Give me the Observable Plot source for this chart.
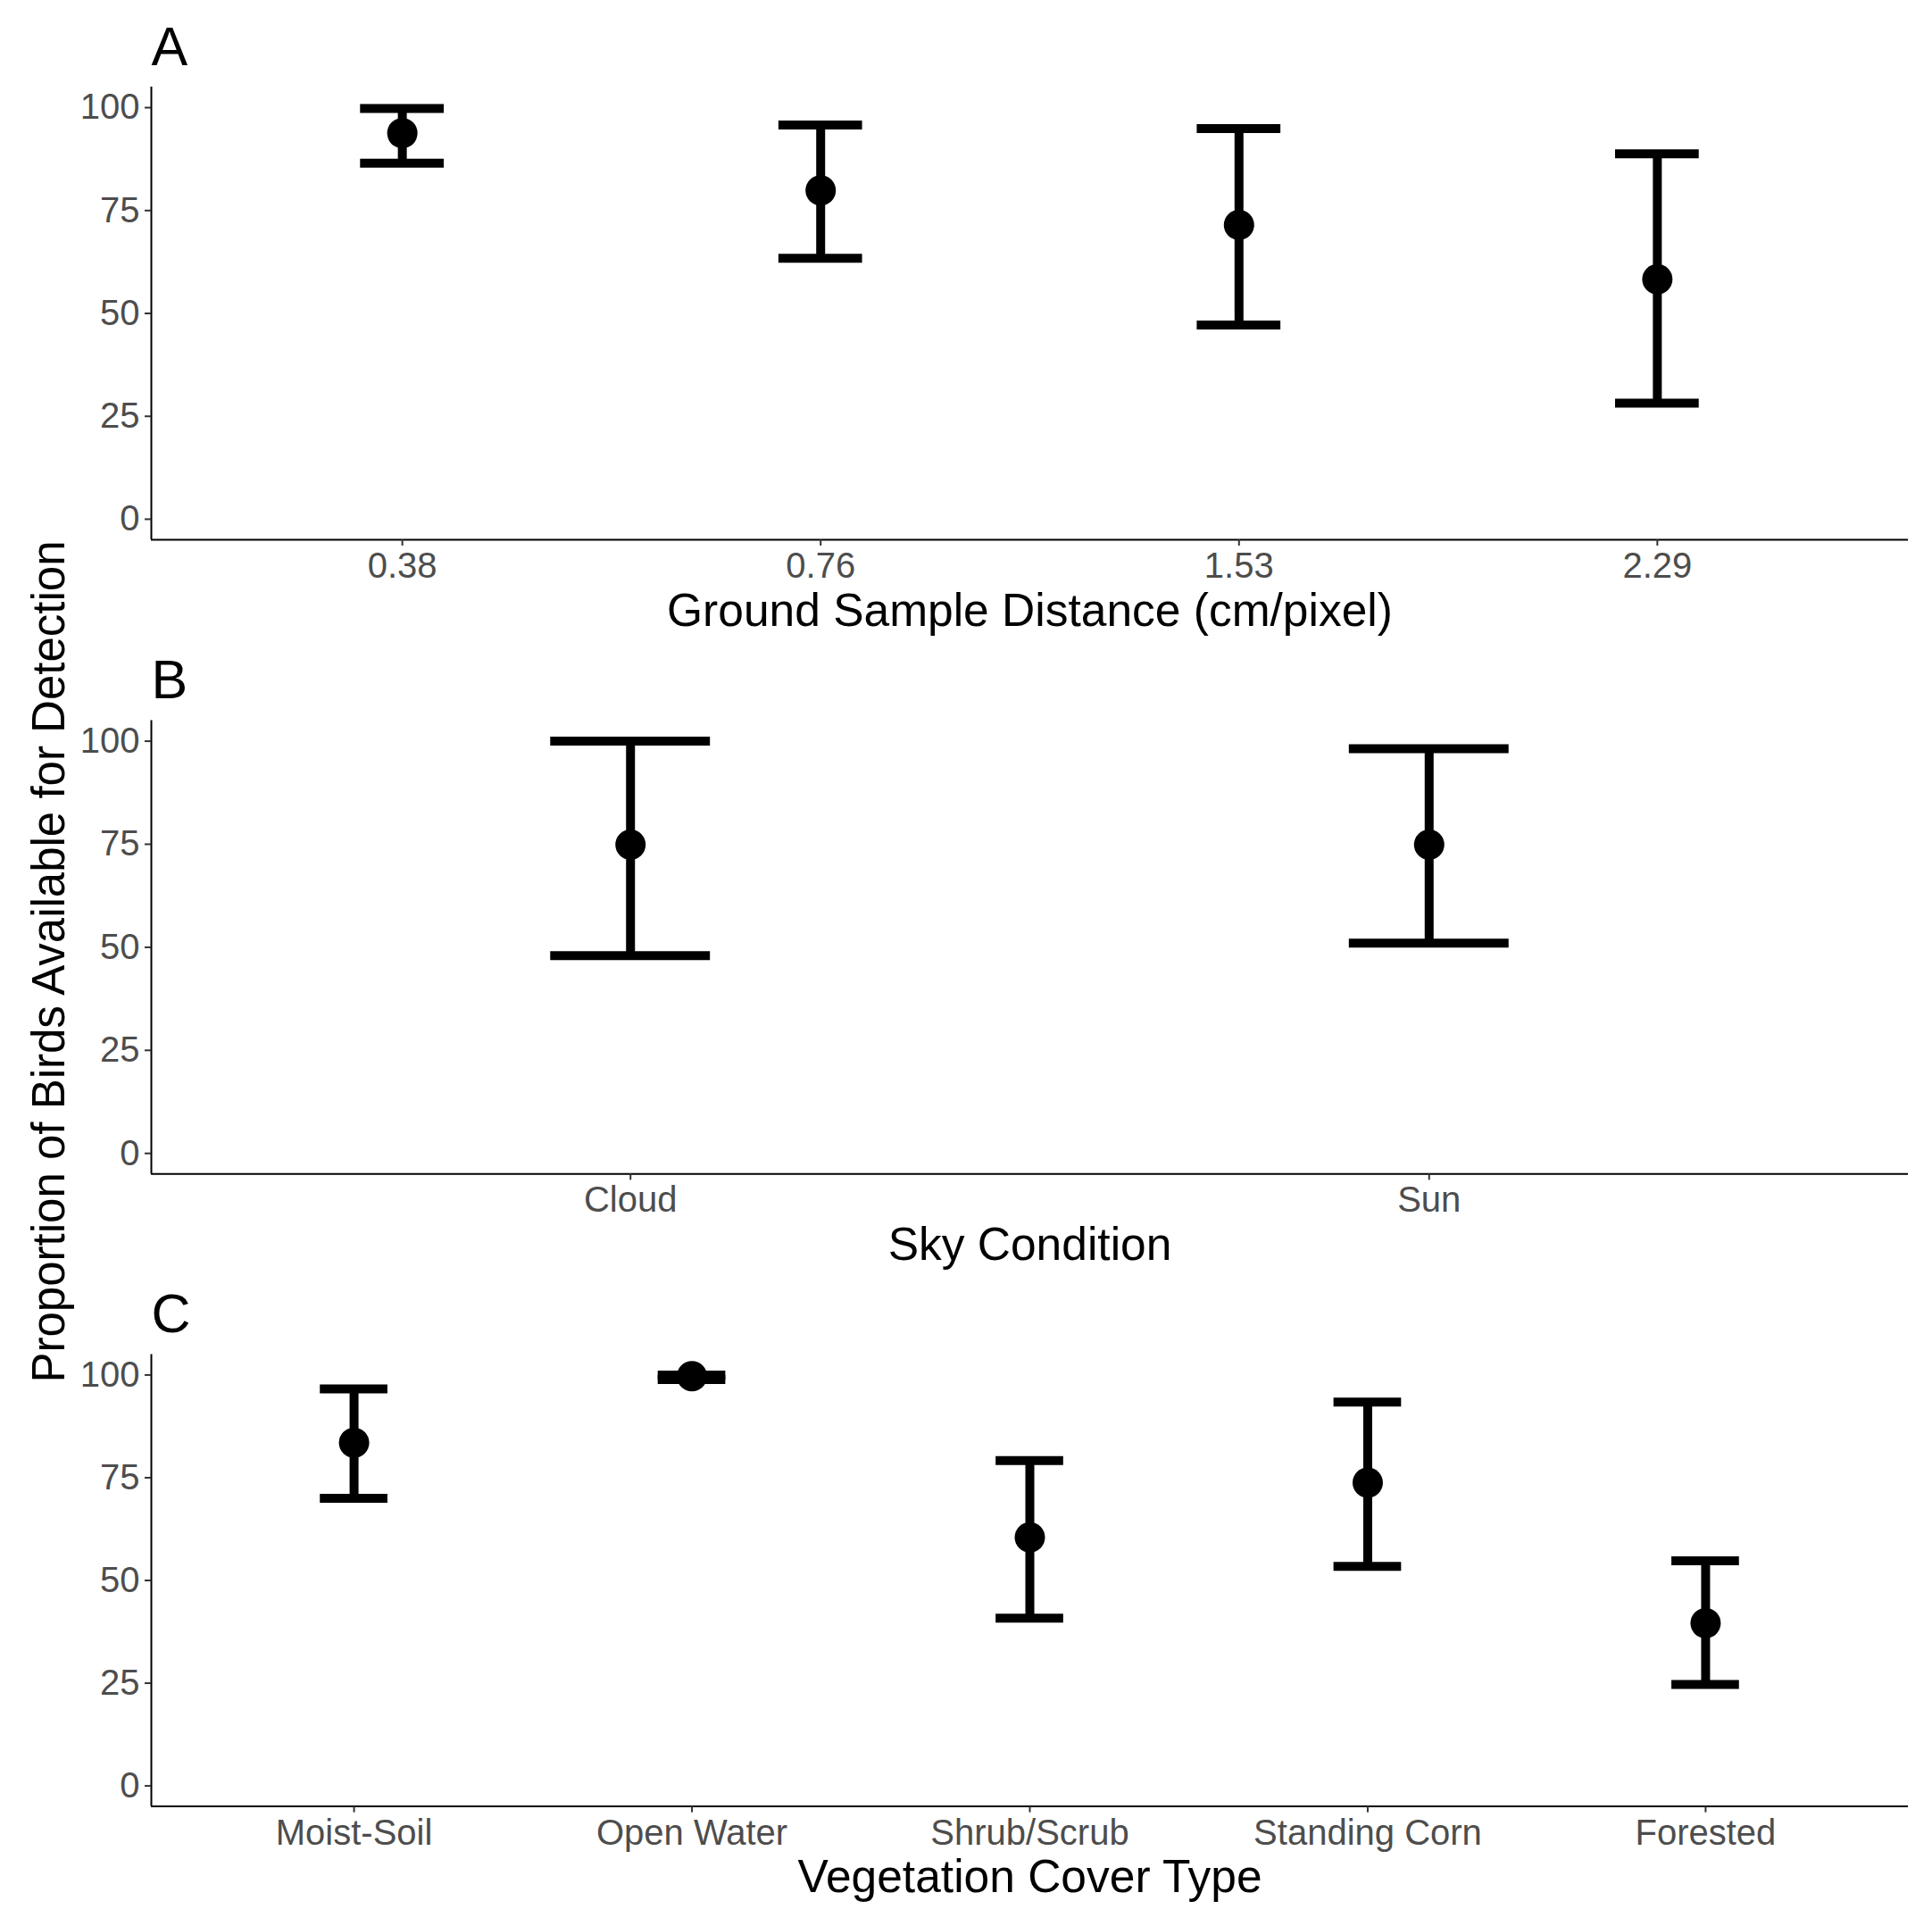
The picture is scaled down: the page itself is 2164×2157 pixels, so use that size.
<!DOCTYPE html>
<html>
<head>
<meta charset="utf-8">
<script src="https://cdn.jsdelivr.net/npm/d3@7"></script>
<script src="https://cdn.jsdelivr.net/npm/@observablehq/plot@0.6"></script>
<style>
html, body { margin: 0; padding: 0; background: #fff; }
#fig { position: relative; width: 2164px; height: 2157px; background: #fff; font-family: "Liberation Sans", Arial, sans-serif; overflow: hidden; }
#fig svg { position: absolute; left: 0; }
#ytitle { position: absolute; left: 54px; top: 1077px; transform: translate(-50%, -50%) rotate(-90deg); font-size: 51px; line-height: 51px; white-space: nowrap; color: #000; }
</style>
</head>
<body>
<div id="fig"><div id="ytitle">Proportion of Birds Available for Detection</div></div>
<script>
// Panel A: Ground Sample Distance
const gsdCats = ["0.38", "0.76", "1.53", "2.29"];
const gsdEst  = [93.8, 79.9, 71.5, 58.3];
const gsdLo   = [86.5, 63.4, 47.2, 28.2];
const gsdHi   = [99.8, 95.8, 94.9, 88.8];

// Panel B: Sky Condition
const skyCats = ["Cloud", "Sun"];
const skyEst  = [74.9, 74.9];
const skyLo   = [48.0, 51.0];
const skyHi   = [100.0, 98.2];

// Panel C: Vegetation Cover Type
const vegCats = ["Moist-Soil", "Open Water", "Shrub/Scrub", "Standing Corn", "Forested"];
const vegEst  = [83.5, 99.7, 60.5, 73.8, 39.6];
const vegLo   = [70.0, 98.9, 40.8, 53.4, 24.7];
const vegHi   = [96.6, 100.0, 79.2, 93.4, 54.8];

const yTicks = [0, 25, 50, 75, 100];
const yDomain = [-5, 105];

const fig = document.getElementById("fig");
const FONT = '"Liberation Sans", Arial, sans-serif';

function panel({cats, est, lo, hi, letter, title, top, height, marginTop, marginBottom}) {
  const n = cats.length;
  const rows = cats.map((c, k) => ({pos: k + 1, cat: c, est: est[k], lo: lo[k], hi: hi[k]}));
  const xDomain = [0.4, n + 0.6];
  const capHalf = 0.1;
  const svg = Plot.plot({
    width: 2164,
    height,
    marginLeft: 169,
    marginRight: 27,
    marginTop,
    marginBottom,
    style: {fontFamily: FONT, background: "transparent", overflow: "visible"},
    x: {domain: xDomain},
    y: {domain: yDomain},
    marks: [
      Plot.ruleY([yDomain[0]], {stroke: "black", strokeWidth: 2}),
      Plot.ruleX([xDomain[0]], {stroke: "black", strokeWidth: 2}),
      Plot.axisX(rows.map(d => d.pos), {
        tickFormat: p => cats[p - 1], tickSize: 7, tickPadding: 7, fontSize: 40,
        stroke: "#333333", fill: "#4d4d4d", strokeWidth: 2, label: null
      }),
      Plot.axisY(yTicks, {
        tickSize: 7, tickPadding: 6, fontSize: 40,
        stroke: "#333333", fill: "#4d4d4d", strokeWidth: 2, label: null
      }),
      Plot.ruleX(rows, {x: "pos", y1: "lo", y2: "hi", stroke: "black", strokeWidth: 10}),
      Plot.ruleY(rows, {x1: d => d.pos - capHalf, x2: d => d.pos + capHalf, y: "hi", stroke: "black", strokeWidth: 10}),
      Plot.ruleY(rows, {x1: d => d.pos - capHalf, x2: d => d.pos + capHalf, y: "lo", stroke: "black", strokeWidth: 10}),
      Plot.dot(rows, {x: "pos", y: "est", r: 17, fill: "black"}),
      Plot.text([letter], {frameAnchor: "top-left", text: d => d, textAnchor: "start", lineAnchor: "bottom", dy: -25, fontSize: 61, fill: "black"}),
      Plot.text([title], {frameAnchor: "bottom", text: d => d, lineAnchor: "bottom", dy: 96, fontSize: 51.5, fill: "black"})
    ]
  });
  svg.style.top = top + "px";
  fig.appendChild(svg);
}

panel({cats: gsdCats, est: gsdEst, lo: gsdLo, hi: gsdHi, letter: "A",
  title: "Ground Sample Distance (cm/pixel)", top: 0, height: 720, marginTop: 97, marginBottom: 116});
panel({cats: skyCats, est: skyEst, lo: skyLo, hi: skyHi, letter: "B",
  title: "Sky Condition", top: 720, height: 710, marginTop: 86.5, marginBottom: 115.7});
panel({cats: vegCats, est: vegEst, lo: vegLo, hi: vegHi, letter: "C",
  title: "Vegetation Cover Type", top: 1430, height: 727, marginTop: 86.4, marginBottom: 134.4});
</script>
</body>
</html>
